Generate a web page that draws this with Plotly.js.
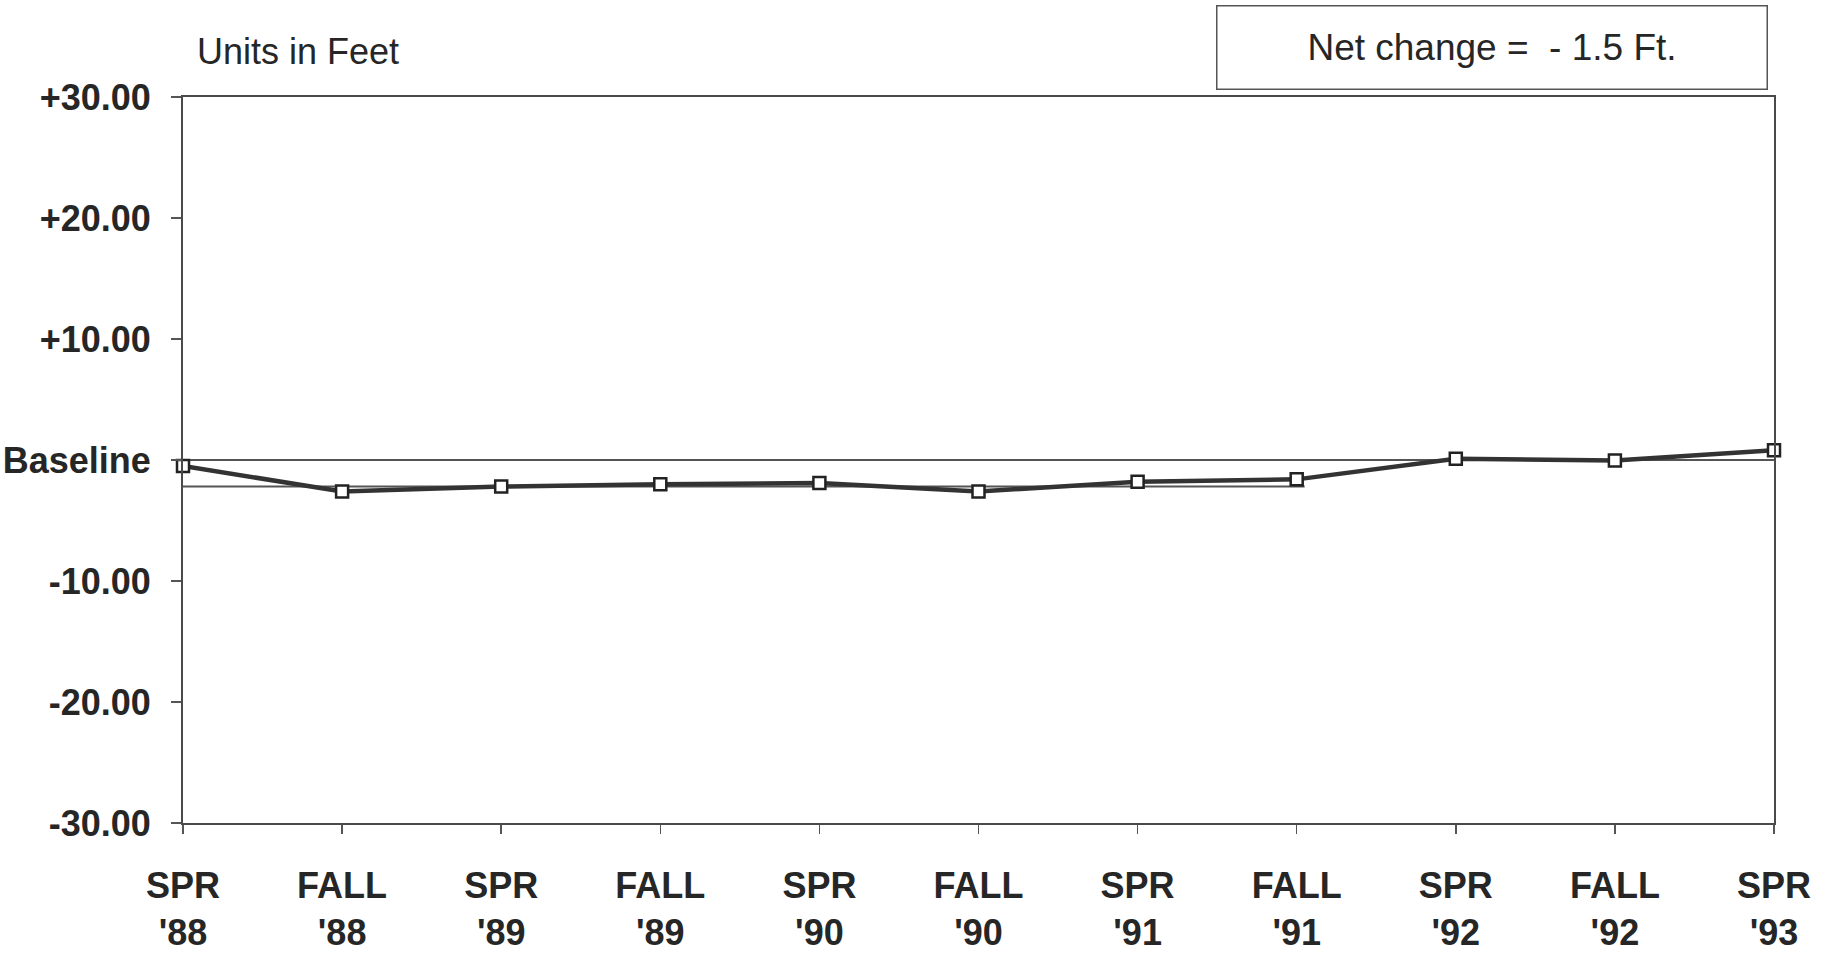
<!DOCTYPE html>
<html>
<head>
<meta charset="utf-8">
<script src="https://cdn.plot.ly/plotly-3.0.1.min.js"></script>
<style>
  html, body { margin: 0; padding: 0; background: #ffffff; }
  #chart { width: 1833px; height: 963px; }
</style>
</head>
<body>
<div id="chart"></div>
<script>
// ---- Data ----
const seasons = ["SPR<br>'88", "FALL<br>'88", "SPR<br>'89", "FALL<br>'89", "SPR<br>'90", "FALL<br>'90",
                 "SPR<br>'91", "FALL<br>'91", "SPR<br>'92", "FALL<br>'92", "SPR<br>'93"];
const levelChange = [-0.5, -2.6, -2.2, -2.0, -1.9, -2.6, -1.8, -1.6, 0.1, -0.05, 0.8];
const yTickValues = [-30, -20, -10, 0, 10, 20, 30];
const yTickLabels = ["-30.00", "-20.00", "-10.00", "Baseline", "+10.00", "+20.00", "+30.00"];
const baselineValue = 0;
const lowerRefValue = -2.2;
const lowerRefEndIndex = 7;   // the lower reference line ends at FALL '91
const unitsText = "Units in Feet";
const netChangeText = "Net change =&nbsp; - 1.5 Ft.";

const FONT = "Liberation Sans, Arial, Helvetica, sans-serif";
const INK = "#262626";

const trace = {
  x: seasons,
  y: levelChange,
  type: "scatter",
  mode: "lines+markers",
  cliponaxis: false,
  line: { color: "#333333", width: 4.5 },
  marker: { symbol: "square", size: 12, color: "#ffffff", line: { color: "#222222", width: 2.5 } },
  showlegend: false,
  hoverinfo: "x+y"
};

const layout = {
  width: 1833,
  height: 963,
  margin: { l: 183, r: 59, t: 97, b: 140 },
  paper_bgcolor: "#ffffff",
  plot_bgcolor: "#ffffff",
  showlegend: false,
  xaxis: {
    type: "category",
    range: [0, seasons.length - 1],
    showline: true, mirror: true, linecolor: "#4a4a4a", linewidth: 2,
    showgrid: false, zeroline: false,
    ticks: "outside", ticklen: 9, tickwidth: 1.5, tickcolor: "#555555",
    tickfont: { family: FONT, size: 36, color: INK, weight: "bold" },
    ticklabelstandoff: 21
  },
  yaxis: {
    range: [-30, 30],
    tickvals: yTickValues,
    ticktext: yTickLabels,
    showline: true, mirror: true, linecolor: "#4a4a4a", linewidth: 2,
    showgrid: false, zeroline: false,
    ticks: "outside", ticklen: 10, tickwidth: 1.5, tickcolor: "#555555",
    tickfont: { family: FONT, size: 36, color: INK, weight: "bold" },
    ticklabelstandoff: 13
  },
  shapes: [
    { type: "line", xref: "x", yref: "y", x0: -0.065, x1: seasons.length - 1, y0: baselineValue, y1: baselineValue,
      line: { color: "#555555", width: 2 }, layer: "below" },
    { type: "line", xref: "x", yref: "y", x0: -0.065, x1: lowerRefEndIndex + 0.05, y0: lowerRefValue, y1: lowerRefValue,
      line: { color: "#555555", width: 2 }, layer: "below" }
  ],
  annotations: [
    { text: unitsText, xref: "paper", yref: "paper", x: 0.0075, y: 1.063, xanchor: "left", yanchor: "middle",
      showarrow: false, font: { family: FONT, size: 36, color: INK } },
    { text: netChangeText, xref: "paper", yref: "paper", x: 0.8226, y: 1.0675, xanchor: "center", yanchor: "middle",
      showarrow: false, width: 549, height: 82, borderpad: 0, borderwidth: 1.5, bordercolor: "#555555",
      bgcolor: "#ffffff", align: "center", valign: "middle",
      font: { family: FONT, size: 37, color: INK } }
  ]
};

Plotly.newPlot("chart", [trace], layout, { displayModeBar: false, staticPlot: true });
</script>
</body>
</html>
